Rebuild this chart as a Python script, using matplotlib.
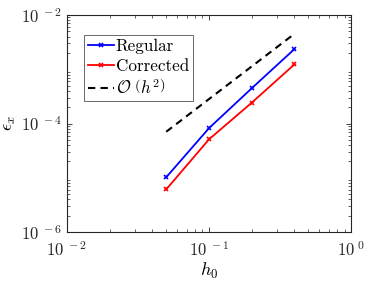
import matplotlib
matplotlib.use("Agg")
from matplotlib import pyplot as plt
from matplotlib.ticker import FixedLocator, FixedFormatter, LogLocator, NullFormatter

plt.rcParams['mathtext.fontset'] = 'cm'
plt.rcParams['font.family'] = 'serif'
plt.rcParams['font.serif'] = ['cmr10', 'DejaVu Serif']
plt.rcParams['axes.formatter.use_mathtext'] = True

h0 = [0.05, 0.1, 0.2, 0.4]
err_regular = [1.02e-5, 8.2e-5, 4.46e-4, 2.36e-3]
err_corrected = [6.1e-6, 5.1e-5, 2.42e-4, 1.23e-3]
order_const = 0.0282
order_ref = [order_const * h ** 2 for h in h0]

xticks = [1e-2, 1e-1, 1e0]
xticklabels = [r'$10^{\ -2}$', r'$10^{\ -1}$', r'$10^{\ 0}$']
yticks = [1e-6, 1e-4, 1e-2]
yticklabels = [r'$10^{\ -6}$', r'$10^{\ -4}$', r'$10^{\ -2}$']

fig = plt.figure(figsize=(3.74, 2.87), dpi=100)
ax = fig.add_axes([0.179, 0.1916, 0.7595, 0.7561])

ax.plot(h0, err_regular, color='b', lw=1.3, marker='x', ms=3.2, mew=1.2, label='Regular')
ax.plot(h0, err_corrected, color='r', lw=1.3, marker='x', ms=3.2, mew=1.2, label='Corrected')
ax.plot(h0, order_ref, color='k', lw=1.5, ls=(0, (3.5, 2.5)), label=r'$\mathcal{O}\ \left(h^2\right)$')

ax.set_xscale('log')
ax.set_yscale('log')
ax.set_xlim(1e-2, 1e0)
ax.set_ylim(1e-6, 1e-2)

ax.xaxis.set_major_locator(FixedLocator(xticks))
ax.xaxis.set_major_formatter(FixedFormatter(xticklabels))
ax.yaxis.set_major_locator(FixedLocator(yticks))
ax.yaxis.set_major_formatter(FixedFormatter(yticklabels))
ax.xaxis.set_minor_locator(LogLocator(base=10, subs=range(2, 10)))
ax.yaxis.set_minor_locator(LogLocator(base=10, subs=range(2, 10), numticks=20))
ax.xaxis.set_minor_formatter(NullFormatter())
ax.yaxis.set_minor_formatter(NullFormatter())

for s in ax.spines.values():
    s.set_color('#262626')
    s.set_linewidth(0.8)
ax.tick_params(which='both', direction='in', top=True, right=True, colors='#262626', labelcolor='#262626', labelsize=12)
ax.tick_params(which='major', length=3.5, width=0.6)
ax.tick_params(which='minor', length=2, width=0.5)
ax.tick_params(axis='x', pad=6)

ax.set_xlabel(r'$h_0$', fontsize=13, labelpad=1)
ax.set_ylabel(r'$\epsilon_x$', fontsize=13, labelpad=2)

leg = ax.legend(loc='upper left', bbox_to_anchor=(0.06, 0.91), fontsize=12.3,
                frameon=True, fancybox=False, handlelength=1.5, handletextpad=0.1,
                borderpad=0.25, labelspacing=0.25, borderaxespad=0)
leg.get_frame().set_edgecolor('#262626')
leg.get_frame().set_linewidth(0.6)

fig.savefig('out.png', dpi=100)
